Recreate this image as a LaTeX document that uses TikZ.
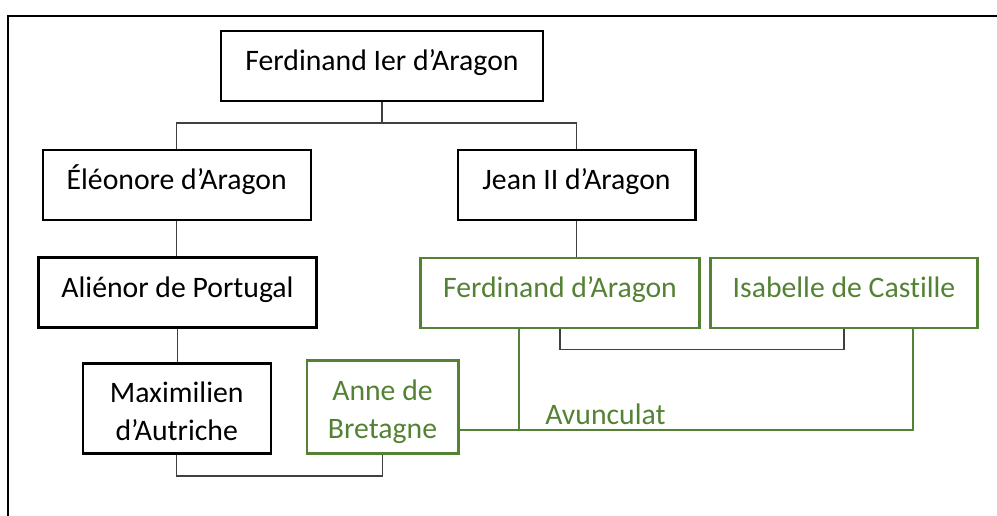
\documentclass[tikz,border=0pt]{standalone}
\usepackage{fontspec}
\setmainfont{Carlito}[Ligatures=NoCommon]
\usepackage{tikz}
\usetikzlibrary{calc}

\definecolor{avgreen}{HTML}{548235}
\definecolor{linkgray}{HTML}{404040}

\tikzset{
  box/.style={draw, line width=1.8pt, inner sep=0pt, minimum height=52.5pt,
    font=\fontsize{22.3}{28.7}\selectfont, text height=14pt, text depth=7.5pt},
  kin/.style={box, draw=avgreen, text=avgreen},
  twoline/.style={align=center, text height=47.5pt, text depth=0pt},
  link/.style={linkgray, line width=0.8pt},
  glink/.style={avgreen, line width=0.9pt},
}

\begin{document}
\begin{tikzpicture}[x=0.75pt, y=-0.75pt]
            \useasboundingbox (0,0) rectangle (997,516);
            \draw[line width=1.6pt] (997,16) -- (8.3,16) -- (8.3,516);

            % family boxes
            \node[box, minimum width=241.5pt] (ferd1) at (382,66) {Ferdinand Ier d’Aragon};
            \node[box, minimum width=201pt] (eleo) at (176.7,185) {Éléonore d’Aragon};
            \node[box, minimum width=178.2pt] (jean) at (576.5,185) {Jean II d’Aragon};
            \node[box, minimum width=208.5pt] (alie) at (177.5,292.7) {Aliénor de Portugal};
            \node[box, twoline, minimum width=141pt, minimum height=67.5pt] (maxi) at (176.7,408.7) {Maximilien\\d’Autriche};
            \node[kin, twoline, minimum width=113.7pt, minimum height=70pt] (anne) at (382.5,407) {Anne de\\Bretagne};
            \node[kin, minimum width=209pt] (ferd2) at (560,293) {Ferdinand d’Aragon};
            \node[kin, minimum width=200.5pt] (isab) at (844,293) {Isabelle de Castille};

            \coordinate (split) at (382,123);
            \coordinate (wedA) at (280,476);
            \coordinate (wedB) at (700,349.7);
            \coordinate (avL) at (519,430);
            \coordinate (avR) at (913,430);

            % descent
            \draw[link] (ferd1.south) -- (split);
            \draw[link] (eleo.north) |- (split) -| (jean.north);
            \draw[link] (eleo.south) -- (eleo.south |- alie.north);
            \draw[link] (alie.south) -- (alie.south |- maxi.north);
            \draw[link] (jean.south) -- (jean.south |- ferd2.north);

            % marriages
            \draw[link] (maxi.south) |- (wedA) -| (anne.south);
            \draw[link] (ferd2.south) |- (wedB) -| (isab.south);

            \draw[glink] (anne.east |- avL) -- (avR) -- (avR |- isab.south);
            \draw[glink] (avL) -- (avL |- ferd2.south);
            \node[anchor=base west, inner sep=0pt, text=avgreen, font=\fontsize{22.3}{26}\selectfont] (avun) at (545,425) {Avunculat};
        \end{tikzpicture}
\end{document}
